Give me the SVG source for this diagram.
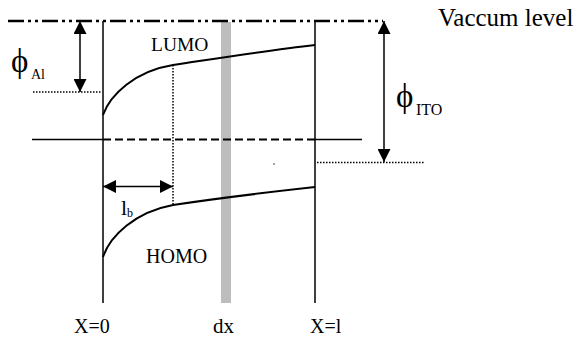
<svg xmlns="http://www.w3.org/2000/svg" width="579" height="337" viewBox="0 0 579 337">
<style>
.ln{stroke:#000;stroke-width:1.5;fill:none}
.cv{stroke:#000;stroke-width:2;fill:none}
.dot{stroke:#000;stroke-width:1.5;fill:none;stroke-dasharray:1.5 1.5}
.t{font-family:"Liberation Serif","Times New Roman",serif;fill:#000}
</style>
<defs>
<marker id="ah" viewBox="0 0 13 13" refX="13" refY="6.5" markerWidth="13" markerHeight="13" markerUnits="userSpaceOnUse" orient="auto-start-reverse">
<path d="M0,0 L13,6.5 L0,13 z" fill="#000"/>
</marker>
</defs>
<rect width="579" height="337" fill="#fff"/>
<g id="dx-slab">
<rect x="221" y="22" width="10" height="281" fill="#bdbdbd"/>
<text class="t" x="213" y="333" font-size="21">dx</text>
</g>
<g id="vacuum-level">
<line x1="8" y1="21" x2="383" y2="21" stroke="#000" stroke-width="2.5" stroke-dasharray="16 4 3 4 3 4"/>
<text class="t" x="438" y="26" font-size="25">Vaccum level</text>
</g>
<g id="boundary-x0">
<line class="ln" x1="103" y1="21" x2="103" y2="303"/>
<text class="t" x="74" y="333" font-size="20">X=0</text>
</g>
<g id="boundary-xl">
<line class="ln" x1="315" y1="21" x2="315" y2="303"/>
<text class="t" x="310" y="333" font-size="20">X=l</text>
</g>
<g id="fermi-level">
<line class="ln" x1="32" y1="139.5" x2="103" y2="139.5"/>
<line x1="103" y1="139.5" x2="315" y2="139.5" stroke="#000" stroke-width="2" stroke-dasharray="8 4"/>
<line class="ln" x1="315" y1="139.5" x2="362" y2="139.5"/>
</g>
<g id="lumo">
<path class="cv" d="M103,115 C110,95 135,71 173,65 C220,58 270,50 315,45"/>
<text class="t" x="151" y="50.5" font-size="19.5">LUMO</text>
</g>
<g id="homo">
<path class="cv" d="M103,257 C110,236 135,212 173,205 C220,198 270,192 315,187"/>
<text class="t" x="146" y="263" font-size="20">HOMO</text>
</g>
<g id="phi-al">
<line class="dot" x1="33" y1="92" x2="101" y2="92"/>
<text class="t" x="11" y="72" font-size="33">ϕ</text>
<text class="t" x="31" y="79" font-size="14">Al</text>
</g>
<g id="phi-ito">
<line class="dot" x1="317" y1="162.5" x2="425" y2="162.5"/>
<text class="t" x="396" y="107" font-size="33">ϕ</text>
<text class="t" x="416" y="115" font-size="16">ITO</text>
</g>
<g id="lb">
<line class="dot" x1="173" y1="65" x2="173" y2="205"/>
<text class="t" x="121" y="215" font-size="22">l</text>
<text class="t" x="127" y="217" font-size="12">b</text>
</g>
<g id="connectors">
<line class="ln" x1="80" y1="21" x2="80" y2="92" marker-start="url(#ah)" marker-end="url(#ah)"/>
<line class="ln" x1="384" y1="21" x2="384" y2="162" marker-start="url(#ah)" marker-end="url(#ah)"/>
<line class="ln" x1="103" y1="186.5" x2="173" y2="186.5" marker-start="url(#ah)" marker-end="url(#ah)"/>
</g>
<circle cx="274" cy="164" r="0.7" fill="#000"/>
</svg>
